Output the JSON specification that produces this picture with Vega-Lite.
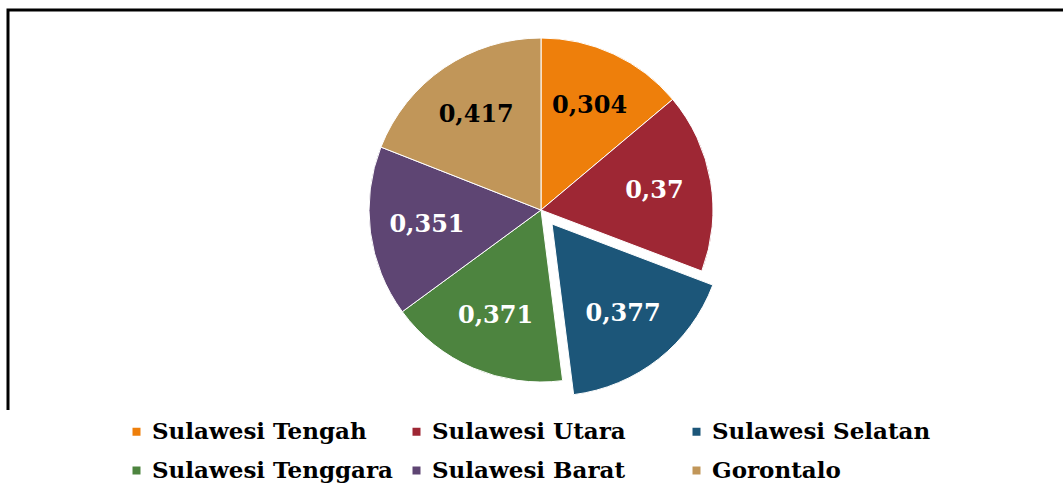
{
  "$schema": "https://vega.github.io/schema/vega-lite/v6.json",
  "width": 1066,
  "height": 400,
  "autosize": {"type": "none"},
  "padding": {"left": 8, "top": 10, "right": 0, "bottom": 83},
  "background": "#ffffff",
  "config": {
    "view": {"stroke": null},
    "locale": {"number": {"decimal": ",", "thousands": ".", "grouping": [3], "currency": ["", ""]}}
  },
  "data": {
    "values": [
      {"no": 1, "region": "Sulawesi Tengah", "value": 0.304},
      {"no": 2, "region": "Sulawesi Utara", "value": 0.37},
      {"no": 3, "region": "Sulawesi Selatan", "value": 0.377},
      {"no": 4, "region": "Sulawesi Tenggara", "value": 0.371},
      {"no": 5, "region": "Sulawesi Barat", "value": 0.351},
      {"no": 6, "region": "Gorontalo", "value": 0.417}
    ]
  },
  "layer": [
    {
      "mark": {"type": "rect", "fill": "transparent", "stroke": "#000000", "strokeWidth": 3, "strokeDash": [1066, 1466, 483]},
      "transform": [{"filter": "datum.no === 1"}],
      "encoding": {}
    },
    {
      "mark": {"type": "arc", "outerRadius": 172, "stroke": "#ffffff", "strokeWidth": 1},
      "encoding": {
        "theta": {"field": "value", "type": "quantitative", "stack": true},
        "order": {"field": "no", "type": "quantitative"},
        "color": {
          "field": "region", "type": "nominal",
          "scale": {
            "domain": ["Sulawesi Tengah", "Sulawesi Utara", "Sulawesi Selatan", "Sulawesi Tenggara", "Sulawesi Barat", "Gorontalo"],
            "range": ["#EE7F0B", "#9E2734", "#1C5679", "#4D843F", "#5E4573", "#C19659"]
          },
          "legend": {
            "title": null, "orient": "none", "legendX": 117, "legendY": 410, "direction": "horizontal", "columns": 3,
            "gridAlign": "all", "columnPadding": 11, "rowPadding": 15,
            "symbolType": "square", "symbolSize": 64, "symbolStrokeWidth": 0, "symbolOffset": 0,
            "labelFont": "DejaVu Serif", "labelFontWeight": "bold", "labelFontSize": 23,
            "labelColor": "#000000", "labelOffset": 4, "labelLimit": 400
          }
        },
        "opacity": {"condition": {"test": "datum.region === 'Sulawesi Selatan'", "value": 0}, "value": 1}
      }
    },
    {
      "mark": {"type": "arc", "outerRadius": 172, "stroke": "#ffffff", "strokeWidth": 1, "xOffset": 11, "yOffset": 14},
      "encoding": {
        "theta": {"field": "value", "type": "quantitative", "stack": true},
        "order": {"field": "no", "type": "quantitative"},
        "color": {"field": "region", "type": "nominal"},
        "opacity": {"condition": {"test": "datum.region === 'Sulawesi Selatan'", "value": 1}, "value": 0}
      }
    },
    {
      "mark": {"type": "text", "radius": 115, "font": "DejaVu Serif", "fontWeight": "bold", "fontSize": 24},
      "encoding": {
        "theta": {"field": "value", "type": "quantitative", "stack": true},
        "order": {"field": "no", "type": "quantitative"},
        "text": {"field": "value", "type": "quantitative", "format": ".3~f"},
        "color": {"condition": {"test": "datum.region === 'Sulawesi Tengah' || datum.region === 'Gorontalo'", "value": "#000000"}, "value": "#ffffff"},
        "opacity": {"condition": {"test": "datum.region === 'Sulawesi Selatan'", "value": 0}, "value": 1}
      }
    },
    {
      "mark": {"type": "text", "radius": 115, "font": "DejaVu Serif", "fontWeight": "bold", "fontSize": 24, "xOffset": 11, "yOffset": 14, "color": "#ffffff"},
      "encoding": {
        "theta": {"field": "value", "type": "quantitative", "stack": true},
        "order": {"field": "no", "type": "quantitative"},
        "text": {"field": "value", "type": "quantitative", "format": ".3~f"},
        "opacity": {"condition": {"test": "datum.region === 'Sulawesi Selatan'", "value": 1}, "value": 0}
      }
    }
  ]
}
